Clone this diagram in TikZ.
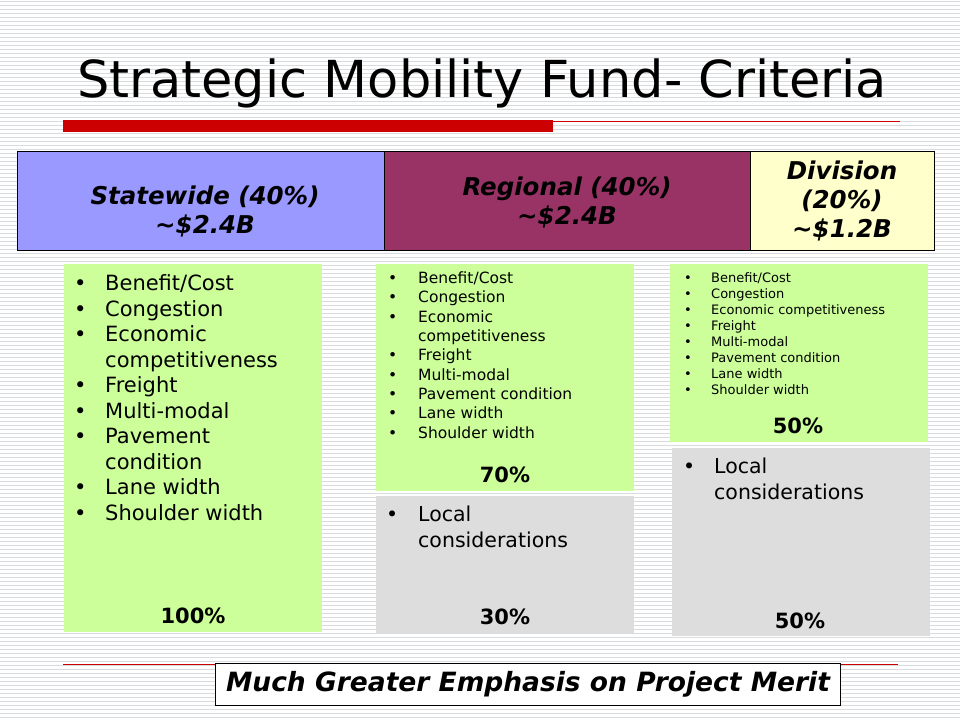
\documentclass[tikz,border=0pt]{standalone}
\usepackage{fontspec}
\setmainfont{DejaVu Sans}
\definecolor{stripe}{RGB}{216,220,222}
\definecolor{redbar}{RGB}{204,0,0}
\definecolor{stateblue}{RGB}{153,153,255}
\definecolor{regmaroon}{RGB}{153,51,102}
\definecolor{divyellow}{RGB}{255,255,204}
\definecolor{critgreen}{RGB}{204,255,153}
\definecolor{localgray}{RGB}{221,221,221}
\begin{document}
\begin{tikzpicture}[x=1pt,y=-1pt,
  header/.style={draw=black,line width=1pt,minimum height=99pt,anchor=north west,inner sep=0pt},
  headtext/.style={inner sep=0pt,align=center,font=\fontsize{24.5}{28}\selectfont\bfseries\itshape},
  panel/.style={anchor=north west,inner sep=0pt},
  listtext/.style={anchor=base west,inner sep=0pt,align=left},
  pct/.style={anchor=base,inner sep=0pt,font=\fontsize{21}{24}\selectfont\bfseries}
]
\useasboundingbox (0,0) rectangle (960,720);
\fill[white] (0,0) rectangle (960,720);
\foreach \y in {1,5,...,719} \draw[stripe,line width=1pt] (0,\y) -- (960,\y);

% title
\node[anchor=base,inner sep=0pt,font=\fontsize{51}{60}\selectfont] (title) at (482,97) {Strategic Mobility Fund- Criteria};
\fill[redbar] (63,120) rectangle (553,132);
\draw[redbar,line width=1pt] (553,121) -- (900,121);

% headers
\node[header,fill=stateblue,minimum width=367pt] (state) at (17,151) {};
\node[header,fill=regmaroon,minimum width=366pt] (reg) at (384,151) {};
\node[header,fill=divyellow,minimum width=184pt] (div) at (750,151) {};
\node[headtext] (statet) at (205,211) {Statewide (40\%)\\[1pt]\textasciitilde\$2.4B};
\node[headtext] (regt) at (567,202) {Regional (40\%)\\[1pt]\textasciitilde\$2.4B};
\node[headtext] (divt) at (842,201) {Division\\[1pt](20\%)\\[1pt]\textasciitilde\$1.2B};

% panels
\node[panel,fill=critgreen,minimum width=258pt,minimum height=368pt] (sg) at (64,264) {};
\node[panel,fill=critgreen,minimum width=258pt,minimum height=227pt] (rg) at (376,264) {};
\node[panel,fill=localgray,minimum width=258pt,minimum height=137pt] (rl) at (376,496) {};
\node[panel,fill=critgreen,minimum width=258pt,minimum height=178pt] (dg) at (670,264) {};
\node[panel,fill=localgray,minimum width=258pt,minimum height=188pt] (dl) at (672,448) {};

% statewide list (anchor at baseline of last line)
\node[listtext,font=\fontsize{21}{25.5}\selectfont] (slist) at (74,520) {%
\makebox[31pt][l]{\textbullet}Benefit/Cost\\
\makebox[31pt][l]{\textbullet}Congestion\\
\makebox[31pt][l]{\textbullet}Economic\\
\makebox[31pt][l]{}competitiveness\\
\makebox[31pt][l]{\textbullet}Freight\\
\makebox[31pt][l]{\textbullet}Multi-modal\\
\makebox[31pt][l]{\textbullet}Pavement\\
\makebox[31pt][l]{}condition\\
\makebox[31pt][l]{\textbullet}Lane width\\
\makebox[31pt][l]{\textbullet}Shoulder width};
\node[pct] (s100) at (193,623) {100\%};

% regional list
\node[listtext,font=\fontsize{15.5}{19.3}\selectfont] (rlist) at (388,438) {%
\makebox[30pt][l]{\textbullet}Benefit/Cost\\
\makebox[30pt][l]{\textbullet}Congestion\\
\makebox[30pt][l]{\textbullet}Economic\\
\makebox[30pt][l]{}competitiveness\\
\makebox[30pt][l]{\textbullet}Freight\\
\makebox[30pt][l]{\textbullet}Multi-modal\\
\makebox[30pt][l]{\textbullet}Pavement condition\\
\makebox[30pt][l]{\textbullet}Lane width\\
\makebox[30pt][l]{\textbullet}Shoulder width};
\node[pct] (r70) at (505,482) {70\%};
\node[listtext,font=\fontsize{20.5}{26}\selectfont] (rloc) at (386,547) {%
\makebox[32pt][l]{\textbullet}Local\\
\makebox[32pt][l]{}considerations};
\node[pct] (r30) at (505,624) {30\%};

% division list
\node[listtext,font=\fontsize{13}{16}\selectfont] (dlist) at (684,394) {%
\makebox[27pt][l]{\textbullet}Benefit/Cost\\
\makebox[27pt][l]{\textbullet}Congestion\\
\makebox[27pt][l]{\textbullet}Economic competitiveness\\
\makebox[27pt][l]{\textbullet}Freight\\
\makebox[27pt][l]{\textbullet}Multi-modal\\
\makebox[27pt][l]{\textbullet}Pavement condition\\
\makebox[27pt][l]{\textbullet}Lane width\\
\makebox[27pt][l]{\textbullet}Shoulder width};
\node[pct] (d50a) at (798,433) {50\%};
\node[listtext,font=\fontsize{20.5}{26}\selectfont] (dloc) at (683,499) {%
\makebox[31pt][l]{\textbullet}Local\\
\makebox[31pt][l]{}considerations};
\node[pct] (d50b) at (800,628) {50\%};

% bottom
\draw[redbar,line width=1pt] (63,664) -- (898,664);
\node[draw=black,line width=1pt,fill=white,anchor=north west,minimum width=625pt,minimum height=42pt,inner sep=0pt,
  font=\fontsize{26.5}{30}\selectfont\bfseries\itshape] (merit) at (215,663) {Much Greater Emphasis on Project Merit};
\end{tikzpicture}
\end{document}
